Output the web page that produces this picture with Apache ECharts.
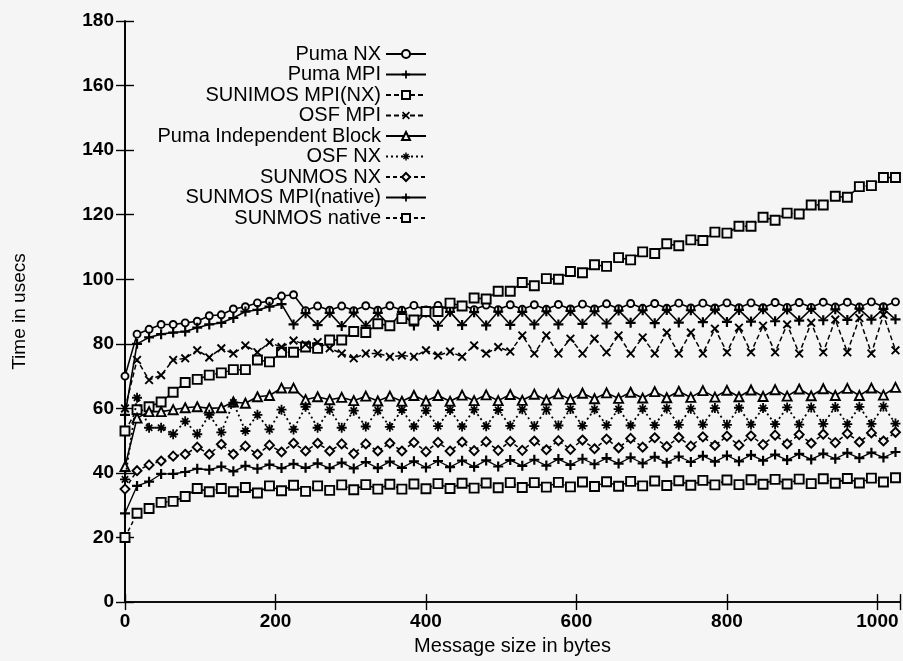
<!DOCTYPE html>
<html>
<head>
<meta charset="utf-8">
<script src="https://cdn.jsdelivr.net/npm/echarts@6/dist/echarts.min.js"></script>
<style>
html,body{margin:0;padding:0;background:#f5f5f5;}
#chart{width:903px;height:661px;}
</style>
</head>
<body>
<div id="chart"></div>
<script>
// Message sizes (bytes)
var messageSizes = [0,16,32,48,64,80,96,112,128,144,160,176,192,208,224,240,256,272,288,304,320,336,352,368,384,400,416,432,448,464,480,496,512,528,544,560,576,592,608,624,640,656,672,688,704,720,736,752,768,784,800,816,832,848,864,880,896,912,928,944,960,976,992,1008,1024];

var xTicks = [0,200,400,600,800,1000];
var yTicks = [0,20,40,60,80,100,120,140,160,180];

var seriesNames = ["Puma NX","Puma MPI","SUNIMOS MPI(NX)","OSF MPI","Puma Independent Block","OSF NX","SUNMOS NX","SUNMOS MPI(native)","SUNMOS native"];

var pumaNX = [70,83,84.5,86,86,86.5,87,88.7,89,90.8,91.5,92.7,93.2,94.8,95.2,90.3,91.7,90.4,91.7,90.3,91.8,90.4,91.8,90.4,91.9,90.5,91.9,90.5,92,90.6,92,90.6,92.1,90.7,92.1,90.7,92.2,90.8,92.3,90.8,92.4,90.9,92.5,91,92.5,91,92.6,91.1,92.6,91.1,92.7,91.2,92.7,91.2,92.8,91.3,92.8,91.3,92.9,91.4,92.9,91.4,93,91.5,93];
var pumaMPI = [58,80,82,83,83.5,83.8,85,86,86.5,88,90,90.5,91.5,92.3,86,89.5,85.8,89.6,85.5,89.7,85.6,89.6,85.5,89.8,85.7,89.7,85.6,89.9,85.8,89.8,85.7,90,85.9,89.9,86,90.1,86,90.2,86.2,90.1,86.3,90.3,86.5,90.4,86.4,90.5,86.6,90.4,86.7,90.6,86.8,90.5,86.9,90.7,87,90.6,87.2,90.8,87.3,90.7,87.4,90.9,87.5,90.8,87.6];
var sunimosMPINX = [53,59.6,60.5,62,65,68,69,70.3,71,72,72,75,74.4,77.4,77.4,79,78.6,81.2,81.2,83.8,83.5,86.2,85.6,87.8,87.4,90,90,92.6,91.7,94.2,93.9,96.3,96.3,99,98,100.2,100,102.4,102,104.5,104,106.7,106,108.5,108,111,110.4,112.2,112,114.6,114.3,116.4,116.4,119.2,118.3,120.5,120.2,123,123,125.7,125.4,128.7,129,131.5,131.5];
var osfMPI = [60,75,68.8,70.3,75,75.5,78,75.8,78.6,77,79.5,77.4,80.4,79,81,79.8,80.5,78.6,77,75.5,77,77,76,76.4,76,78,76.4,77.6,76,79.5,77,79,77.6,82.6,77,82.6,77,81.6,77,81.6,77.4,82.6,77,82,77,83.5,77,83.5,77,84.7,77.4,85,77.4,85.6,77.4,86,77,86.5,77.4,87.5,77.4,88,77,89,78];
var pumaIndBlock = [42,57,59,59,59.6,60.2,60.5,60,60.2,62,61.6,63.6,64,66.3,66.3,62.7,63.6,62.7,63.4,62.4,63.8,62.3,63.8,62.2,64,62.3,64,62.2,64.1,62.4,64.2,62.4,64.3,62.5,64.4,62.6,64.5,62.8,64.7,63,64.8,63.1,65,63.2,65.2,63.3,65.3,63.4,65.5,63.5,65.6,63.6,65.7,63.7,65.8,63.8,66,63.9,66.1,64,66.2,64,66.3,64.1,66.5];
var osfNX = [38,63.3,54,54,52,56,52,58,52.6,61.8,53,58,53.5,59.6,53.5,60.5,54,59.6,54,59.3,54.4,59.4,54.3,59.5,54.4,59.3,54.5,59.5,54.4,59.6,54.5,59.5,54.6,59.7,54.5,59.6,54.7,59.8,54.6,59.7,54.8,59.8,54.7,59.9,54.8,60,54.9,59.9,55,60.1,54.9,60.2,55,60.1,55.1,60.3,55,60.3,55.2,60.4,55.1,60.5,55.2,60.6,55.3];
var sunmosNX = [35,40.7,42.5,43.7,45.2,45.8,48,45.8,48.9,45.8,48.3,45.8,48.6,46.5,49.2,46.8,49.2,46.8,49,46,49,46.8,49.2,46.8,49.5,46.6,49.5,46.8,49.6,46.9,49.7,47,49.8,47,49.9,47.2,50,47.3,50.2,47.5,50.5,47.8,50.7,48,50.9,48.2,51,48.3,51.2,48.5,51.4,48.6,51.5,48.8,51.7,49,51.9,49.2,52,49.4,52.2,49.6,52.4,49.9,52.6];
var sunmosMPInative = [27.5,36,37.3,39.7,39.7,40.3,41.3,41,42,40.5,42.2,41.3,42.6,41.5,42.8,41.6,43,41.5,43.2,41.4,43.4,41.5,43.5,41.6,43.6,41.7,43.7,41.8,43.8,41.9,43.9,42,44,42.2,44.1,42.3,44.3,42.5,44.4,42.7,44.6,42.9,44.8,43,45,43.2,45.1,43.4,45.3,43.5,45.4,43.6,45.6,43.8,45.7,44,45.9,44.2,46,44.4,46.2,44.6,46.3,44.8,46.5];
var sunmosNative = [20,27.5,29,30.9,31.2,32.7,35.2,34.2,35.2,34.2,35.5,33.8,36,34.5,36.2,34.3,36,34.6,36.3,34.8,36.4,35,36.5,35,36.6,35.1,36.7,35.2,36.8,35.3,36.9,35.4,37,35.5,37,35.6,37.1,35.7,37.2,35.8,37.3,35.9,37.4,36,37.5,36.1,37.6,36.2,37.7,36.3,37.8,36.4,37.9,36.5,38,36.6,38.1,36.7,38.2,36.8,38.3,36.9,38.4,37.2,38.5];

var allValues = [pumaNX,pumaMPI,sunimosMPINX,osfMPI,pumaIndBlock,osfNX,sunmosNX,sunmosMPInative,sunmosNative];

var BG = '#f5f5f5';
var INK = '#000000';
var PLUS = 'path://M3.9,0L6.1,0L6.1,3.9L10,3.9L10,6.1L6.1,6.1L6.1,10L3.9,10L3.9,6.1L0,6.1L0,3.9L3.9,3.9Z';
var CROSS = 'path://M0,1.5L1.5,0L10,8.5L8.5,10Z M8.5,0L10,1.5L1.5,10L0,8.5Z';
var STAR = 'path://M4.1,0L5.9,0L5.9,4.1L10,4.1L10,5.9L5.9,5.9L5.9,10L4.1,10L4.1,5.9L0,5.9L0,4.1L4.1,4.1Z M1.2,2.4L2.4,1.2L8.8,7.6L7.6,8.8Z M7.6,1.2L8.8,2.4L2.4,8.8L1.2,7.6Z';

var styles = [
  {symbol:'circle', size:7, hollow:true, dash:'solid', width:1.6},
  {symbol:PLUS, size:10, hollow:false, dash:'solid', width:1.6},
  {symbol:'rect', size:9, hollow:true, dash:[5,3], width:1.5},
  {symbol:CROSS, size:9, hollow:false, dash:[5,3], width:1.5},
  {symbol:'triangle', size:9, hollow:true, dash:'solid', width:1.6},
  {symbol:STAR, size:10, hollow:false, dash:[2,3], width:1.8},
  {symbol:'diamond', size:9, hollow:true, dash:[4,3], width:1.5},
  {symbol:PLUS, size:10, hollow:false, dash:'solid', width:1.3},
  {symbol:'rect', size:9, hollow:true, dash:[4,3], width:1.5}
];

var series = seriesNames.map(function(name, k){
  var st = styles[k];
  var vals = allValues[k];
  return {
    name: name,
    type: 'line',
    xAxisIndex: 0,
    yAxisIndex: 0,
    data: messageSizes.map(function(x, i){ return [x, vals[i]]; }),
    symbol: st.symbol,
    symbolSize: st.size,
    showAllSymbol: true,
    lineStyle: {color: INK, width: st.width, type: st.dash},
    itemStyle: st.hollow ? {color: BG, borderColor: INK, borderWidth: 1.9} : {color: INK, borderWidth: 0},
    emphasis: {disabled: true},
    z: 2 + k
  };
});

var chart = echarts.init(document.getElementById('chart'), null, {renderer: 'canvas'});
var FONT = '"Liberation Sans", Arial, Helvetica, sans-serif';

function xFmt(v){ return xTicks.indexOf(v) >= 0 ? String(v) : ''; }
function yFmt(v){ return yTicks.indexOf(v) >= 0 ? String(v) : ''; }

var axisLineStyle = {color: INK, width: 1.7};

chart.setOption({
  backgroundColor: BG,
  animation: false,
  textStyle: {fontFamily: FONT, color: INK},
  grid: {left: 125, right: 1, top: 21, bottom: 51, containLabel: false},
  legend: {
    orient: 'vertical',
    align: 'right',
    right: 476,
    top: 44,
    padding: 0,
    itemGap: 0.5,
    itemWidth: 40,
    itemHeight: 10,
    data: seriesNames,
    textStyle: {fontFamily: FONT, fontSize: 20, color: INK, lineHeight: 20},
    selectedMode: false
  },
  xAxis: [
    {
      type: 'value', position: 'bottom', min: 0, max: 1030, interval: 200,
      name: 'Message size in bytes', nameLocation: 'middle', nameGap: 28,
      nameTextStyle: {fontFamily: FONT, fontSize: 20, color: INK},
      axisLine: {show: true, lineStyle: axisLineStyle},
      axisTick: {show: true, inside: true, length: 8, lineStyle: {color: INK, width: 1.4}},
      axisLabel: {formatter: xFmt, fontFamily: FONT, fontSize: 19, fontWeight: 'bold', color: INK, margin: 10},
      splitLine: {show: false}
    },
    {
      type: 'value', position: 'top', min: 0, max: 1030, interval: 200,
      axisLine: {show: true, lineStyle: axisLineStyle},
      axisTick: {show: true, inside: true, length: 8, lineStyle: {color: INK, width: 1.4}},
      axisLabel: {show: false},
      splitLine: {show: false}
    }
  ],
  yAxis: [
    {
      type: 'value', position: 'left', min: 0, max: 180, interval: 20,
      name: 'Time in usecs', nameLocation: 'middle', nameGap: 96, nameRotate: 90,
      nameTextStyle: {fontFamily: FONT, fontSize: 19, color: INK},
      axisLine: {show: true, lineStyle: axisLineStyle},
      axisTick: {show: true, inside: true, length: 9, lineStyle: {color: INK, width: 1.4}},
      axisLabel: {formatter: yFmt, fontFamily: FONT, fontSize: 19, fontWeight: 'bold', color: INK, margin: 11},
      splitLine: {show: false}
    },
    {
      type: 'value', position: 'right', min: 0, max: 180, interval: 20,
      axisLine: {show: true, lineStyle: axisLineStyle},
      axisTick: {show: true, inside: true, length: 9, lineStyle: {color: INK, width: 1.4}},
      axisLabel: {show: false},
      splitLine: {show: false}
    }
  ],
  series: series
});
</script>
</body>
</html>
